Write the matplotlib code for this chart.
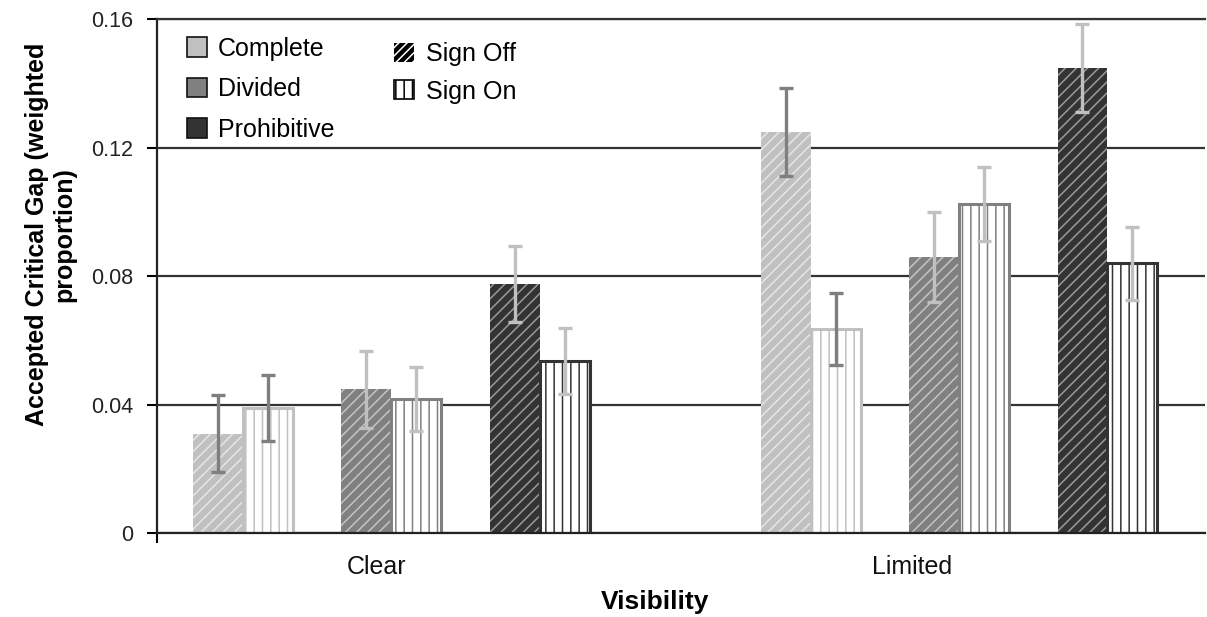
import numpy as np
import matplotlib.pyplot as plt
from matplotlib.patches import Patch

plt.rcParams['font.family'] = ['Liberation Sans', 'DejaVu Sans']
plt.rcParams['hatch.linewidth'] = 1.1

visibility = ['Clear', 'Limited']
approaches = ['Complete', 'Divided', 'Prohibitive']

# values per approach, [Clear, Limited]
sign_off = [[0.031, 0.125], [0.0448, 0.0859], [0.0775, 0.1447]]
sign_off_err = [[0.012, 0.0137], [0.012, 0.014], [0.0118, 0.0137]]
sign_on = [[0.0389, 0.0635], [0.0417, 0.1024], [0.0535, 0.084]]
sign_on_err = [[0.0103, 0.0113], [0.010, 0.0115], [0.0103, 0.0114]]

colors = ['#c0c0c0', '#808080', '#333333']
hatch_cols = ['#e6e6e6', '#c4c4c4', '#9a9a9a']
err_cols = ['#7f7f7f', '#c0c0c0', '#c0c0c0']

fig = plt.figure(figsize=(12.07, 6.17), dpi=100)
ax = fig.add_axes([0.130, 0.136, 0.868, 0.833])

x = np.arange(len(visibility))
w = 0.088
offsets = [-0.26, 0.0, 0.262]

for i, name in enumerate(approaches):
    xo = x + offsets[i] - w / 2
    xn = x + offsets[i] + w / 2
    ax.bar(xo, sign_off[i], w, color=colors[i], edgecolor=hatch_cols[i],
           hatch='///', linewidth=0, zorder=2)
    ax.bar(xn, sign_on[i], w, color='white', edgecolor=colors[i],
           hatch='||', linewidth=2.2, zorder=2)
    ax.errorbar(xo, sign_off[i], yerr=sign_off_err[i], fmt='none',
                ecolor=err_cols[i], elinewidth=2.4, capsize=5, capthick=2.4, zorder=3)
    ax.errorbar(xn, sign_on[i], yerr=sign_on_err[i], fmt='none',
                ecolor=err_cols[i], elinewidth=2.4, capsize=5, capthick=2.4, zorder=3)

ax.set_xlim(-0.412, 1.433)
ax.set_ylim(0, 0.16)
ax.set_yticks([0, 0.04, 0.08, 0.12, 0.16])
ax.set_yticklabels(['0', '0.04', '0.08', '0.12', '0.16'])
ax.yaxis.grid(True, color='#333333', linewidth=1.6)
ax.set_axisbelow(True)

ax.set_xticks([-0.025, 0.917])
ax.set_xticklabels(visibility)
ax.set_xticks([-0.412], minor=True)
ax.tick_params(axis='x', which='major', length=0, pad=16, labelsize=18, labelcolor='#111111')
ax.tick_params(axis='x', which='minor', length=7, width=1.5, direction='out')
ax.tick_params(axis='y', length=7, width=1.5, direction='out', labelsize=15.5,
               labelcolor='#222222', pad=10)

ax.spines['right'].set_visible(False)
ax.spines['top'].set_color('#333333')
ax.spines['top'].set_linewidth(1.6)
for s in ['left', 'bottom']:
    ax.spines[s].set_color('#222222')
    ax.spines[s].set_linewidth(1.6)

fig.text(0.543, 0.013, 'Visibility', fontsize=19, fontweight='bold', ha='center')
fig.text(0.042, 0.62, 'Accepted Critical Gap (weighted\nproportion)', fontsize=18,
         fontweight='bold', rotation=90, ha='center', va='center', linespacing=1.15)

h1 = [Patch(facecolor=c, edgecolor='#111111', linewidth=1.2) for c in colors]
leg1 = ax.legend(h1, approaches, loc='upper left', bbox_to_anchor=(0.012, 1.0),
                 frameon=False, fontsize=18, handlelength=0.8, handleheight=0.8,
                 handletextpad=0.45, labelspacing=0.66, borderaxespad=0.3)
ax.add_artist(leg1)
h2 = [Patch(facecolor='black', edgecolor='white', hatch='////', linewidth=0),
      Patch(facecolor='white', edgecolor='black', hatch='||', linewidth=1.2)]
ax.legend(h2, ['Sign Off', 'Sign On'], loc='upper left', bbox_to_anchor=(0.21, 0.99),
          frameon=False, fontsize=18, handlelength=0.8, handleheight=0.8,
          handletextpad=0.45, labelspacing=0.55, borderaxespad=0.3)

fig.savefig('out.png', dpi=100)
